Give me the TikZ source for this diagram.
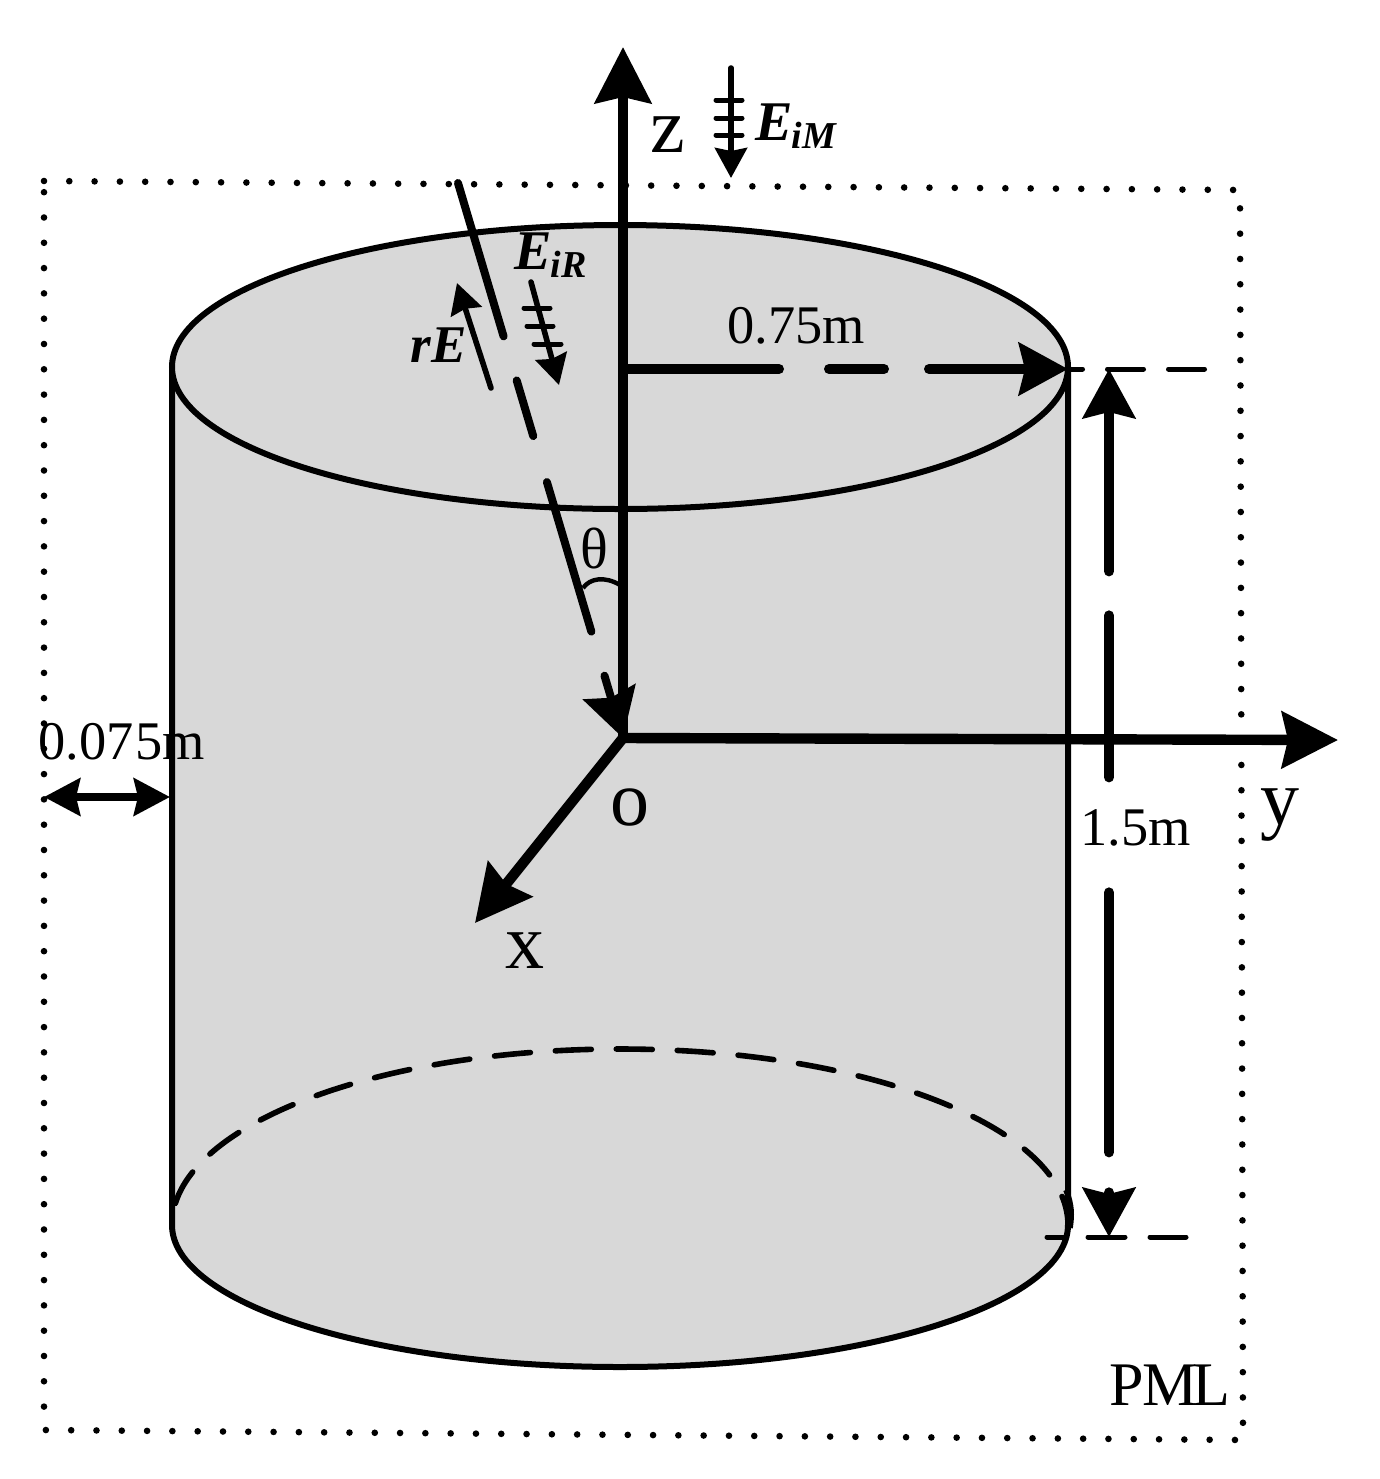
\documentclass[tikz,border=0pt]{standalone}
\usepackage{fontspec}
\setmainfont{Liberation Serif}
\usetikzlibrary{arrows.meta}
\newcommand{\fieldlabel}[2]{\bfseries\itshape\fontsize{28}{28}\selectfont #1\kern-0.5pt\raisebox{-4pt}{\fontsize{19}{19}\selectfont #2}}
\definecolor{cylgray}{HTML}{D8D8D8}
\tikzset{
	lbl/.style = {inner sep = 0pt, anchor = base west, font = \fontsize{27.2}{27.2}\selectfont},
	axislbl/.style = {inner sep = 0pt, anchor = base west, font = \fontsize{39}{39}\selectfont},
	rim/.style = {line width = 3pt, line cap = round},
	axisline/.style = {line width = 5.2pt, -{Stealth[length = 28pt, width = 28pt, inset = 3pt]}},
	thinarrow/.style = {line width = 2.8pt, line cap = round, -{Stealth[length = 15pt, width = 16pt, inset = 1.5pt]}},
	guide/.style = {line width = 2.5pt, line cap = round},
	dimtip/.tip = {Stealth[length = 24.5pt, width = 26pt, inset = 3pt]},
	gaptip/.tip = {Stealth[length = 18pt, width = 18.5pt, inset = 2pt]}
}
\begin{document}
\begin{tikzpicture}[x = 0.5pt, y = -0.5pt]
		\useasboundingbox (0,0) rectangle (1380,1479);
		\coordinate (o) at (623,738);
		\coordinate (ztip) at (623,47);
		\coordinate (ytip) at (1338,740);
		\coordinate (xtip) at (475,923);
		\coordinate (rimright) at (1068,369);
		\coordinate (basemark) at (1109,1237);
		\coordinate (topmark) at (1109,369);
		\coordinate (raystart) at (458,183);
		\fill[cylgray] (172,367) -- (172,1225) .. controls (172,1303) and (372,1367) .. (620,1367) .. controls (868,1367) and (1068,1303) .. (1068,1225) -- (1068,367) -- cycle;
		\draw[rim] (172,367) -- (172,1225) .. controls (172,1303) and (372,1367) .. (620,1367) .. controls (868,1367) and (1068,1303) .. (1068,1225) -- (1068,367);
		\draw[rim, fill = cylgray] (620,367) ellipse [x radius = 448, y radius = 142];
		\draw[guide, line width = 2.8pt, dash pattern = on 18pt off 12.5pt, dash phase = 19.5pt] (172,1225) .. controls (172,1128) and (372,1049) .. (620,1049) .. controls (868,1049) and (1068,1128) .. (1068,1225);
		\draw[line width = 2.8pt] (1066,1190) .. controls (1072,1205) and (1072,1215) .. (1070,1228);
		\draw[line width = 3.3pt, line cap = round, dash pattern = on 0pt off 12.65pt] (44,181) -- (1240,190) -- (1243,1440) -- (44,1430) -- cycle;
		\draw[axisline] (o) -- (ztip);
		\draw[axisline] (o) -- (ytip);
		\draw[axisline] (o) -- (xtip);
		\draw[line width = 4pt, line cap = round, dash pattern = on 80pt off 23pt on 29pt off 24pt on 78pt off 23pt on 100pt, -{Stealth[length = 24pt, width = 27pt, inset = 3pt]}] (raystart) -- (o);
		\draw[line width = 2.2pt] (583,588) .. controls (590,578) and (605,576) .. (620,585);
		\draw[line width = 5pt, line cap = round, dash pattern = on 78pt off 25pt on 27.5pt off 22.5pt on 100pt, -{dimtip}] (o |- rimright) -- (rimright);
		\draw[guide, dash pattern = on 18pt off 12.5pt, dash phase = 10.75pt] (rimright) -- (1205,369);
		\draw[guide, dash pattern = on 18pt off 12.5pt, dash phase = 10pt] (1047,1237) -- (basemark);
		\draw[guide, dash pattern = on 18pt off 12.5pt, dash phase = 10pt] (basemark) -- (1186,1237);
		\draw[line width = 5pt, line cap = round, dash pattern = on 81pt off 22pt on 81pt off 57.5pt on 130pt off 20pt, {dimtip}-{dimtip}] (topmark) -- (basemark);
		\draw[line width = 4pt, {gaptip}-{gaptip}] (44,797) -- (170,797);
		\draw[thinarrow] (731,68) -- (731,178);
		\foreach \y in {100,118,135} {
			\draw[guide] (716,\y) -- (742,\y);
		}
		\draw[thinarrow] (531,282) -- (559,385);
		\draw[guide] (524,308) -- (550,308);
		\draw[guide] (527,326) -- (553,326);
		\draw[guide] (534,344) -- (561,344);
		\draw[thinarrow] (491,388) -- (457,283);
		\node[lbl] (radiuslbl) at (727,343) {0.75m};
		\node[lbl] (pmlgap) at (38,759) {0.07\kern1pt 5m};
		\node[lbl] (heightlbl) at (1080,845) {1.5m};
		\node[inner sep = 0pt, anchor = base west, font = \fontsize{31}{31}\selectfont] (pml) at (1109,1405) {P\kern-0.5pt M\kern-3pt L};
		\node[inner sep = 0pt, anchor = base west, font = \fontsize{29}{29}\selectfont] (theta) at (580,568) {θ};
		\node[axislbl] (zlbl) at (650,152) {z};
		\node[axislbl] (ylbl) at (1260,824) {y};
		\node[axislbl] (xlbl) at (505,968) {x};
		\node[axislbl] (olbl) at (610,825) {o};
		\node[inner sep = 0pt, anchor = base west] (eim) at (755,140) {\fieldlabel{E}{iM}};
		\node[inner sep = 0pt, anchor = base west] (eir) at (514,269) {\fieldlabel{E}{iR}};
		\node[inner sep = 0pt, anchor = base west, font = \bfseries\itshape\fontsize{26.5}{26.5}\selectfont] (re) at (410,362) {rE};
	\end{tikzpicture}
\end{document}
